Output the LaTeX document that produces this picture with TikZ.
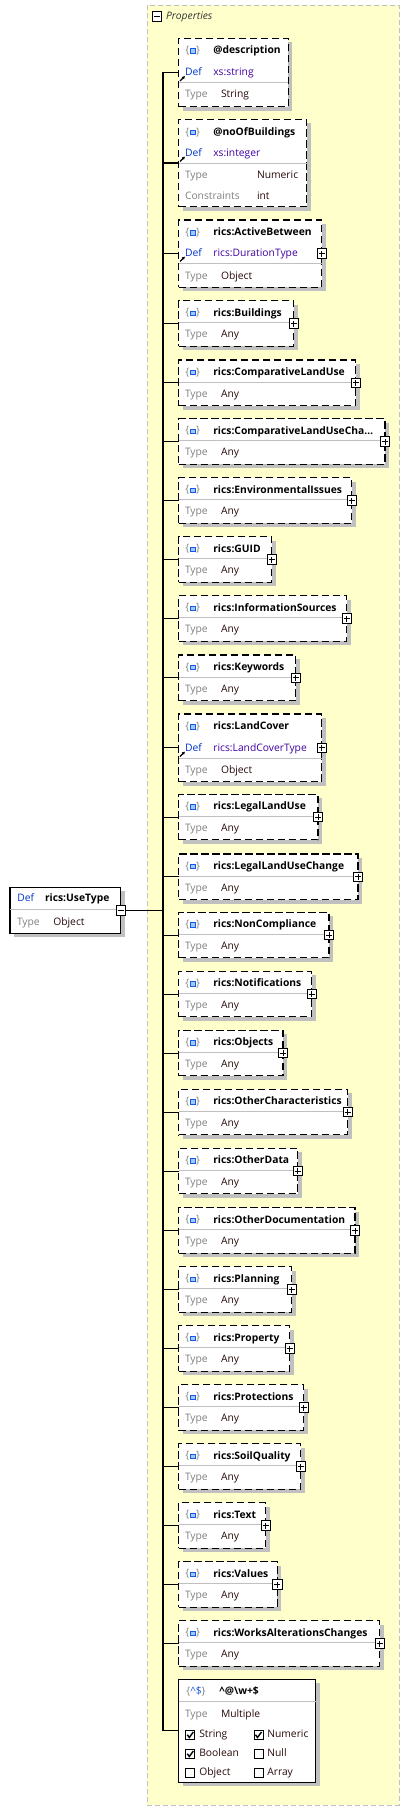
\documentclass[tikz,border=0pt]{standalone}
\usepackage{fontspec}
\setmainfont{Open Sans}
\usetikzlibrary{positioning, arrows.meta, shadows}
\definecolor{propyellow}{RGB}{255,255,204}
\definecolor{framegray}{RGB}{192,192,192}
\definecolor{defblue}{RGB}{0,51,204}
\definecolor{refpurple}{RGB}{64,0,160}
\definecolor{lblgray}{RGB}{128,128,128}
\definecolor{valdark}{RGB}{40,10,10}
\definecolor{iconblue}{RGB}{20,90,230}
\definecolor{iconfill}{RGB}{160,200,255}
\tikzset{
x=1pt, y=-1pt, % one unit per pixel, y grows downwards
every node/.style={inner sep=0pt, outer sep=0pt, text height=7pt, text depth=1.5pt, font=\fontsize{10.3}{12}\selectfont}, % same small text everywhere
box/.style={draw, line width=1.1pt, fill=white, anchor=north west, drop shadow={shadow xshift=4pt, shadow yshift=-4pt, opacity=1, fill=framegray}}, % element box with flat grey shadow
optbox/.style={box, dash pattern=on 7.5pt off 3.5pt}, % optional element, dashed frame
rowline/.style={draw=framegray, line width=0.8pt}, % line between the rows of a box
wire/.style={draw, line width=1.1pt}, % tree lines
elname/.style={anchor=west, font=\fontsize{10.3}{12}\selectfont\bfseries}, % element name
lbl/.style={anchor=west, text=lblgray}, % "Type", "Constraints"
val/.style={anchor=west, text=valdark}, % values
defword/.style={anchor=west, text=defblue}, % "Def"
ref/.style={anchor=west, text=refpurple}, % referenced type
brace/.style={text=lblgray}, % the braces of the icon
iconsq/.style={draw=iconblue, fill=iconfill, line width=0.8pt, minimum width=5pt, minimum height=4.5pt, text height=0pt, text depth=0pt}, % the square in the icon
plusbox/.style={draw, fill=white, line width=0.8pt, minimum size=9.5pt, text height=0pt, text depth=0pt, path picture={\draw[line width=0.8pt] (path picture bounding box.center) +(-3pt,0pt) -- +(3pt,0pt) +(0pt,-3pt) -- +(0pt,3pt);}}, % collapsed
minusbox/.style={draw, fill=white, line width=0.8pt, minimum size=9.5pt, text height=0pt, text depth=0pt, path picture={\draw[line width=0.8pt] (path picture bounding box.center) +(-3pt,0pt) -- +(3pt,0pt);}}, % expanded
checkbox/.style={draw, fill=white, line width=0.8pt, minimum size=9pt, text height=0pt, text depth=0pt}, % empty check box
ticked/.style={checkbox, path picture={\draw[line width=1.4pt] ([shift={(-3pt,0.3pt)}]path picture bounding box.center) -- ([shift={(-1pt,-2.5pt)}]path picture bounding box.center) -- ([shift={(3pt,3pt)}]path picture bounding box.center);}}, % checked box
shortcut/.style={-{Latex[length=3pt,width=3.5pt]}, line width=1.2pt}, % little link arrow of a Def row
}
\begin{document}
\begin{tikzpicture}
        \useasboundingbox (0,0) rectangle (410,1811);
        \fill[white] (0,0) rectangle (410,1811);

        \node[anchor=north west, draw=framegray, fill=propyellow, line width=0.8pt, dash pattern=on 5pt off 3pt, minimum width=252pt, minimum height=1800pt] (properties) at (147.3,5) {};
        \node[minusbox] (properties-minus) at (157,16.5) {};
        \node[anchor=west, text=black!80] (properties-title) at (166,16.5) {\itshape Properties};
        \coordinate (trunk) at (163,910.5);

        \node[box, minimum width=110.7pt, minimum height=46pt] (use-type) at (10,887.3) {};
        \draw[rowline] (10,909.3) -- (120.7,909.3);
        \node[defword] (use-type-def) at (17.3,899) {Def};
        \node[elname] (use-type-name) at (45,899) {rics:UseType};
        \node[lbl] (use-type-type) at (17,922.3) {Type};
        \node[val] (use-type-val) at (53.3,922.3) {Object};
        \node[minusbox] (use-type-minus) at (use-type.east) {};

        \node[optbox, minimum width=109.6pt, minimum height=68.4pt] (description) at (178.7,38.3) {};
        \draw[rowline] (178.7,82.7) -- (288.3,82.7);
        \node[brace] (description-icon) at (192.7,51) {\{\hspace{7pt}\}};
        \node[iconsq] (description-sq) at (description-icon) {};
        \node[elname] (description-name) at (213.3,51) {@description};
        \node[defword] (description-def) at (185,72.7) {Def};
        \node[ref] (description-ref) at (213.3,72.7) {xs:string};
        \node[lbl] (description-type) at (185,95) {Type};
        \node[val] (description-val) at (221,95) {String};
        \draw[shortcut] (180,81) -- (185,76);

        \node[optbox, minimum width=128pt, minimum height=87.4pt] (no-of-buildings) at (178.7,119.3) {};
        \draw[rowline] (178.7,163.3) -- (306.7,163.3);
        \node[brace] (no-of-buildings-icon) at (192.7,132.3) {\{\hspace{7pt}\}};
        \node[iconsq] (no-of-buildings-sq) at (no-of-buildings-icon) {};
        \node[elname] (no-of-buildings-name) at (213.3,132.3) {@noOfBuildings};
        \node[defword] (no-of-buildings-def) at (185,153.3) {Def};
        \node[ref] (no-of-buildings-ref) at (213.3,153.3) {xs:integer};
        \node[lbl] (no-of-buildings-type) at (185,176) {Type};
        \node[val] (no-of-buildings-val) at (257,176) {Numeric};
        \node[lbl] (no-of-buildings-con) at (185,196.7) {Constraints};
        \node[val] (no-of-buildings-int) at (257,196.7) {int};
        \draw[shortcut] (180,161.5) -- (185,156.5);

        \node[optbox, minimum width=143pt, minimum height=67.3pt] (active-between) at (178.7,220) {};
        \draw[rowline] (178.7,263.3) -- (321.7,263.3);
        \node[brace] (active-between-icon) at (192.7,232.7) {\{\hspace{7pt}\}};
        \node[iconsq] (active-between-sq) at (active-between-icon) {};
        \node[elname] (active-between-name) at (213.3,232.7) {rics:ActiveBetween};
        \node[defword] (active-between-def) at (185,253.3) {Def};
        \node[ref] (active-between-ref) at (213.3,253.3) {rics:DurationType};
        \node[lbl] (active-between-type) at (185,276.7) {Type};
        \node[val] (active-between-val) at (221,276.7) {Object};
        \node[plusbox] (active-between-plus) at (active-between.east) {};
        \draw[shortcut] (180,261.5) -- (185,256.5);

        \node[optbox, minimum width=143pt, minimum height=67.7pt] (land-cover) at (178.7,714) {};
        \draw[rowline] (178.7,758.3) -- (321.7,758.3);
        \node[brace] (land-cover-icon) at (192.7,726.7) {\{\hspace{7pt}\}};
        \node[iconsq] (land-cover-sq) at (land-cover-icon) {};
        \node[elname] (land-cover-name) at (213.3,726.7) {rics:LandCover};
        \node[defword] (land-cover-def) at (185,748.3) {Def};
        \node[ref] (land-cover-ref) at (213.3,748.3) {rics:LandCoverType};
        \node[lbl] (land-cover-type) at (185,770.7) {Type};
        \node[val] (land-cover-val) at (221,770.7) {Object};
        \node[plusbox] (land-cover-plus) at (land-cover.east) {};
        \draw[shortcut] (180,756.5) -- (185,751.5);

        \foreach \n/\t/\r/\l in {buildings/300.7/293.7/Buildings, comparative-land-use/360/355.7/ComparativeLandUse,
            comparative-land-use-change/418.7/385/ComparativeLandUseCha\dots, environmental-issues/477.7/351.7/EnvironmentalIssues,
            guid/536.7/271.7/GUID, information-sources/595.7/346.7/InformationSources, keywords/655/295.7/Keywords,
            legal-land-use/794.3/318/LegalLandUse, legal-land-use-change/854/358/LegalLandUseChange,
            non-compliance/912.3/329/NonCompliance, notifications/971.3/311.7/Notifications, objects/1030.3/283/Objects,
            other-characteristics/1089.3/347.7/OtherCharacteristics, other-data/1148.3/297.7/OtherData,
            other-documentation/1207.7/355/OtherDocumentation, planning/1266.7/291.7/Planning, property/1325.7/289.7/Property,
            protections/1384.7/303.7/Protections, soil-quality/1443.7/300.7/SoilQuality, txt/1502.7/265.7/Text,
            values/1561.7/277.3/Values, works-alterations-changes/1620.7/379.7/WorksAlterationsChanges}{
            \node[optbox, minimum width={(\r-178.7)*1pt}, minimum height=45.6pt] (\n) at (178.7,\t) {};
            \draw[rowline] (178.7,\t+22) -- (\r,\t+22);
            \node[brace] (\n-icon) at (192.7,\t+12.5) {\{\hspace{7pt}\}};
            \node[iconsq] (\n-sq) at (\n-icon) {};
            \node[elname] (\n-name) at (213.3,\t+12.6) {rics:\l};
            \node[lbl] (\n-type) at (185,\t+34.3) {Type};
            \node[val] (\n-val) at (221,\t+34.3) {Any};
            \node[plusbox] (\n-plus) at (\n.east) {};
            \draw[wire] (trunk |- \n.west) -- (\n.west);
        }

        \node[box, minimum width=137pt, minimum height=103pt] (pattern) at (178.7,1679.3) {};
        \draw[rowline] (178.7,1701.7) -- (315.7,1701.7);
        \node[brace] (pattern-icon) at (196,1691.7) {\{\textcolor{iconblue}{\textasciicircum\$}\}};
        \node[elname] (pattern-name) at (219.3,1691.7) {\textasciicircum @\textbackslash w+\$};
        \node[lbl] (pattern-type) at (185,1714.3) {Type};
        \node[val] (pattern-val) at (221,1714.3) {Multiple};
        \node[ticked] (string-box) at (190.3,1735) {};
        \node[val] (string-text) at (199.3,1735) {String};
        \node[ticked] (numeric-box) at (258.5,1735) {};
        \node[val] (numeric-text) at (267.3,1735) {Numeric};
        \node[ticked] (boolean-box) at (190.3,1754) {};
        \node[val] (boolean-text) at (199.3,1754) {Boolean};
        \node[checkbox] (null-box) at (258.5,1754) {};
        \node[val] (null-text) at (267.3,1754) {Null};
        \node[checkbox] (object-box) at (190.3,1772.7) {};
        \node[val] (object-text) at (199.3,1772.7) {Object};
        \node[checkbox] (array-box) at (258.5,1772.7) {};
        \node[val] (array-text) at (267.3,1772.7) {Array};

        \draw[wire] (trunk |- description.west) -- (trunk |- pattern.west);
        \draw[wire] (use-type-minus.east) -- (trunk |- use-type-minus.east);
        \draw[wire] (trunk |- description.west) -- (description.west);
        \draw[wire] (trunk |- no-of-buildings.west) -- (no-of-buildings.west);
        \draw[wire] (trunk |- active-between.west) -- (active-between.west);
        \draw[wire] (trunk |- land-cover.west) -- (land-cover.west);
        \draw[wire] (trunk |- pattern.west) -- (pattern.west);
    \end{tikzpicture}
\end{document}
